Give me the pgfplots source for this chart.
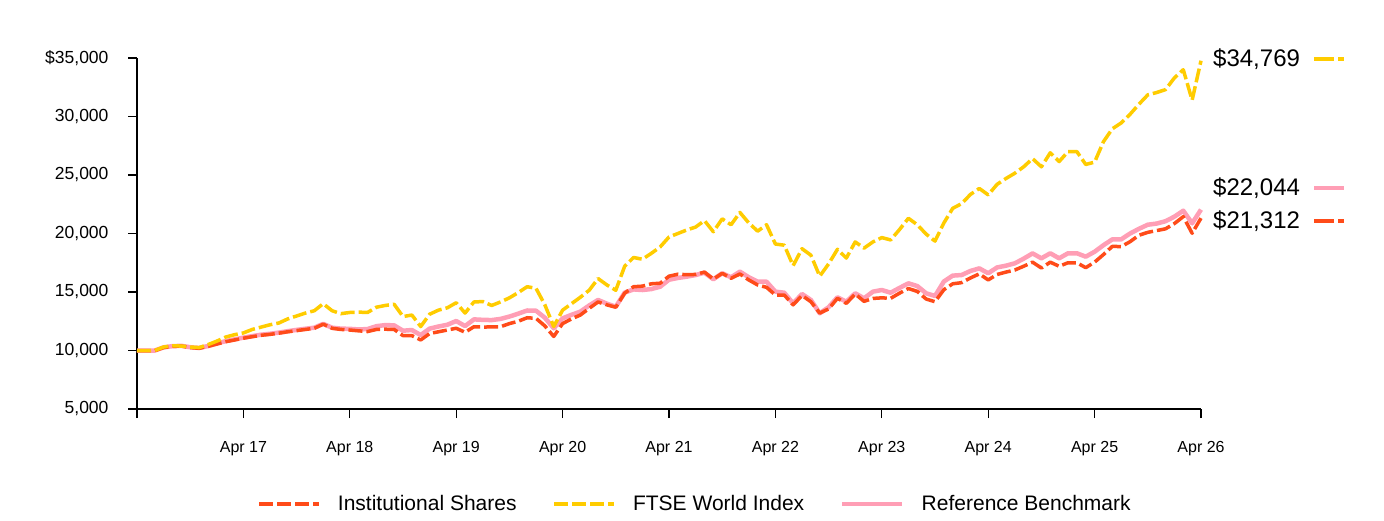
\documentclass[border=0pt]{standalone}
\usepackage{pgfplots}
\pgfplotsset{compat=1.18}
\usepackage{pgfplotstable}
\usepackage{fontspec}
\setmainfont{Liberation Sans}

\definecolor{instred}{RGB}{255,75,25}
\definecolor{ftseyellow}{RGB}{255,204,0}
\definecolor{refpink}{RGB}{255,158,181}

% Growth of $10,000, monthly, Apr 2016 = month 0
\pgfplotstableread{
m inst ftse ref
0 10000 10000 10000
1 9980 9980 9990
2 9980 10000 10000
3 10250 10300 10270
4 10350 10400 10370
5 10380 10380 10400
6 10250 10300 10280
7 10190 10250 10220
8 10350 10500 10380
9 10550 10800 10600
10 10750 11150 10800
11 10900 11350 10950
12 11050 11500 11100
13 11180 11800 11230
14 11300 12000 11350
15 11380 12200 11430
16 11480 12350 11530
17 11600 12700 11650
18 11700 12950 11760
19 11800 13200 11860
20 11900 13400 11950
21 12250 14000 12280
22 11900 13400 11950
23 11800 13150 11870
24 11750 13250 11850
25 11680 13280 11800
26 11620 13250 11830
27 11800 13700 12080
28 11820 13850 12170
29 11800 13950 12150
30 11270 12900 11690
31 11270 13030 11750
32 10900 12050 11320
33 11450 13100 11870
34 11600 13450 12050
35 11750 13650 12200
36 11900 14080 12520
37 11560 13200 12090
38 12030 14150 12660
39 12000 14180 12620
40 12020 13850 12600
41 12030 14150 12700
42 12300 14500 12900
43 12500 14950 13150
44 12800 15450 13420
45 12750 15320 13400
46 12100 13900 12800
47 11200 12050 11900
48 12300 13450 12750
49 12700 14000 13050
50 13030 14550 13320
51 13600 15150 13850
52 14150 16150 14320
53 13900 15600 14000
54 13700 15150 13740
55 14900 17200 14950
56 15450 17950 15220
57 15500 17800 15170
58 15700 18300 15250
59 15750 18850 15450
60 16350 19700 16050
61 16520 20000 16200
62 16480 20300 16310
63 16500 20550 16450
64 16700 21100 16650
65 16100 20150 16090
66 16600 21250 16600
67 16170 20750 16260
68 16540 21800 16740
69 16030 20900 16260
70 15600 20200 15880
71 15400 20750 15880
72 14740 19100 15030
73 14740 19000 14940
74 13900 17250 14030
75 14700 18700 14830
76 14170 18150 14320
77 13200 16350 13180
78 13550 17400 13700
79 14460 18650 14550
80 14030 17900 14170
81 14830 19280 14890
82 14200 18750 14460
83 14450 19280 15030
84 14500 19650 15170
85 14460 19450 14940
86 14900 20340 15350
87 15300 21300 15740
88 15050 20750 15510
89 14400 19950 14890
90 14170 19350 14660
91 15200 20900 15900
92 15700 22150 16400
93 15800 22550 16450
94 16200 23340 16800
95 16550 23850 17020
96 16030 23300 16600
97 16500 24200 17100
98 16700 24700 17250
99 16880 25150 17450
100 17200 25700 17850
101 17550 26400 18300
102 17050 25700 17880
103 17550 26900 18310
104 17200 26150 17880
105 17500 27000 18310
106 17500 27000 18310
107 17080 25900 18020
108 17550 26100 18440
109 18200 27850 19000
110 18900 28950 19500
111 18880 29450 19500
112 19300 30190 20000
113 19850 31050 20400
114 20100 31850 20750
115 20250 32050 20850
116 20400 32300 21050
117 20850 33300 21440
118 21440 34000 21950
119 20020 31400 20870
120 21312 34769 22044
}\growth

\begin{document}
\begin{tikzpicture}
\useasboundingbox (0pt,0pt) rectangle (1384pt,520pt);
\begin{axis}[
  at={(137pt,111pt)}, anchor=south west,
  scale only axis, width=1064pt, height=351pt,
  xmin=0, xmax=120, ymin=5000, ymax=35000,
  axis x line*=bottom, axis y line*=left,
  axis line style={-, line width=1.6pt, black},
  xtick={0,12,...,120},
  xticklabels={,Apr 17,Apr 18,Apr 19,Apr 20,Apr 21,Apr 22,Apr 23,Apr 24,Apr 25,Apr 26},
  ytick={5000,10000,...,35000},
  yticklabels={{5,000},{10,000},{15,000},{20,000},{25,000},{30,000},{\$35,000}},
  scaled y ticks=false,
  tick align=outside, major tick length=9pt,
  tick style={line width=1.3pt, black},
  x tick label style={font=\fontsize{16}{19}\selectfont, yshift=-20pt},
  y tick label style={font=\fontsize{17.5}{20}\selectfont, xshift=-16pt},
  clip=false,
  legend columns=3,
  legend style={at={(0.5245,-0.271)}, anchor=center, draw=none, fill=none,
    font=\fontsize{21}{25}\selectfont, inner sep=0pt,
    /tikz/every odd column/.append style={column sep=15pt},
    /tikz/every even column/.append style={column sep=34pt}},
  legend cell align=left,
  legend image code/.code={\draw[#1] (0pt,0pt) -- (60pt,0pt);},
]
\addplot[refpink, line width=4.5pt, line join=round, forget plot] table[x=m, y=ref] {\growth};
\addplot[instred, line width=3.5pt, line join=round, dash pattern=on 14pt off 4pt] table[x=m, y=inst] {\growth};
\addlegendentry{Institutional Shares}
\addplot[ftseyellow, line width=3.5pt, line join=round, dash pattern=on 14pt off 4pt] table[x=m, y=ftse] {\growth};
\addlegendentry{FTSE World Index}
\addlegendimage{refpink, line width=4.5pt}
\addlegendentry{Reference Benchmark}

% end-of-period values
\node[anchor=west, inner sep=0pt, font=\fontsize{24}{28}\selectfont, xshift=12pt, yshift=1.7pt] at (axis cs:120,34769) {\$34,769};
\node[anchor=west, inner sep=0pt, font=\fontsize{24}{28}\selectfont, xshift=12pt, yshift=21.6pt] at (axis cs:120,22044) {\$22,044};
\node[anchor=west, inner sep=0pt, font=\fontsize{24}{28}\selectfont, xshift=12pt, yshift=-3pt] at (axis cs:120,21312) {\$21,312};
\draw[ftseyellow, line width=3.5pt, dash pattern=on 20pt off 4pt on 6pt off 100pt] ([xshift=113pt, yshift=1.7pt]axis cs:120,34769) -- ++(30pt,0pt);
\draw[refpink, line width=4pt] ([xshift=113pt, yshift=21.6pt]axis cs:120,22044) -- ++(30pt,0pt);
\draw[instred, line width=3.5pt, dash pattern=on 20pt off 4pt on 6pt off 100pt] ([xshift=113pt, yshift=-3pt]axis cs:120,21312) -- ++(30pt,0pt);
\end{axis}
\end{tikzpicture}
\end{document}
